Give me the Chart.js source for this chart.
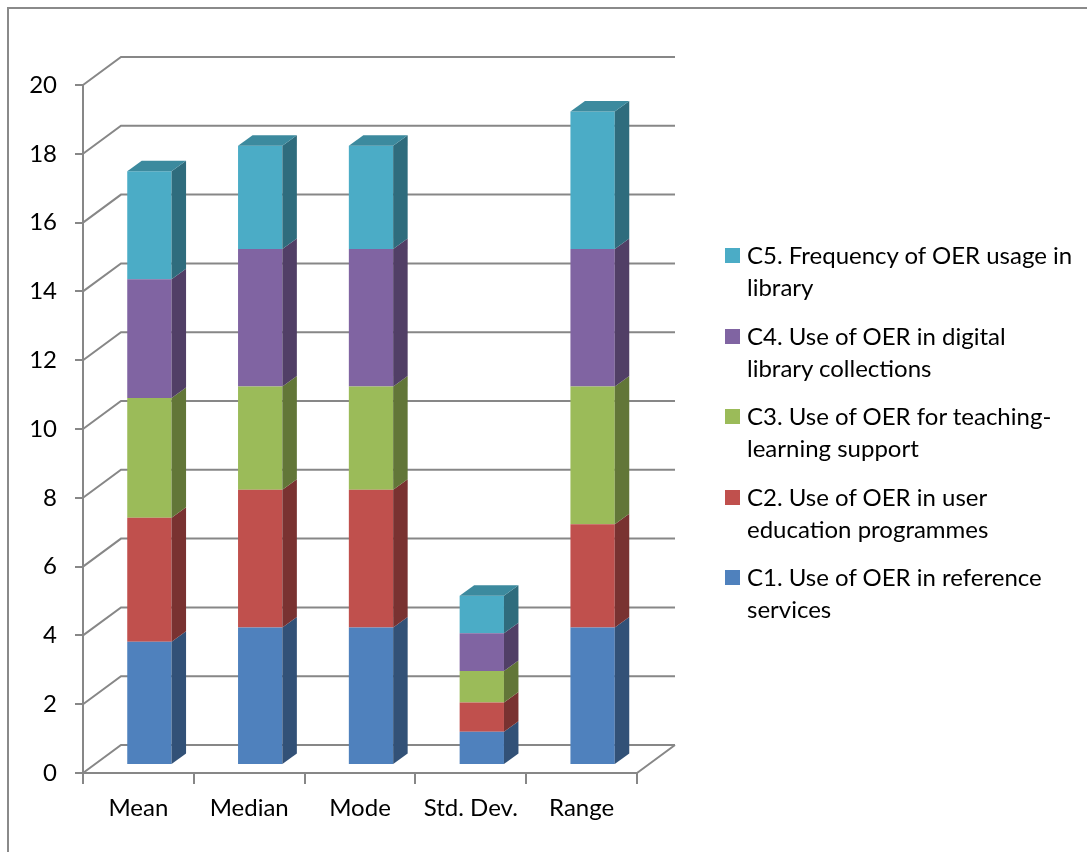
<!DOCTYPE html>
<html lang="en">
<head>
<meta charset="UTF-8">
<title>OER usage – descriptive statistics</title>
<script src="https://cdn.jsdelivr.net/npm/chart.js"></script>
<style>
  html, body { margin: 0; padding: 0; background: #fff; overflow: hidden; }
  #wrap { position: relative; width: 1087px; height: 852px; }
  #frame {
    position: absolute; left: 7px; top: 7px; width: 1200px; height: 1000px;
    border: 2px solid #8a8a8a; box-sizing: border-box;
  }
  #graph { position: absolute; left: 0; top: 0; }
  #legend {
    position: absolute; left: 725px; top: 239px;
    font-family: Lato, "Open Sans", sans-serif; font-size: 24px; color: #000;
  }
  .item { display: flex; align-items: flex-start; margin-bottom: 16.5px; }
  .swatch { width: 15px; height: 15px; margin-top: 9px; margin-right: 7px; flex: none; }
  .label { width: 327px; line-height: 32px; }
</style>
</head>
<body>
<div id="wrap">
  <div id="frame"></div>
  <canvas id="graph" width="1087" height="852"></canvas>
  <div id="legend"></div>
</div>

<script>
  const categories = ["Mean", "Median", "Mode", "Std. Dev.", "Range"];
  const yTicks = [0, 2, 4, 6, 8, 10, 12, 14, 16, 18, 20];

  const seriesNames = [
    "C1. Use of OER in reference services",
    "C2. Use of OER in user education programmes",
    "C3. Use of OER for teaching-learning support",
    "C4. Use of OER in digital library collections",
    "C5. Frequency of OER usage in library"
  ];
  const c1Values = [3.58, 4, 4, 0.97, 4];
  const c2Values = [3.61, 4, 4, 0.85, 3];
  const c3Values = [3.48, 3, 3, 0.91, 4];
  const c4Values = [3.45, 4, 4, 1.10, 4];
  const c5Values = [3.14, 3, 3, 1.09, 4];
  const seriesColors = ["#4F81BD", "#C0504D", "#9BBB59", "#8064A2", "#4BACC6"];

  const axisColor = "#878787";
  const fontFamily = "Lato, 'Open Sans', sans-serif";

  // oblique offsets for the fake 3D look
  const WALL = { x: 38, y: -28 };      // front axis -> back wall
  const BAR_SHIFT = { x: 11, y: -8 };  // bars stand a little behind the front plane
  const BAR_DEPTH = { x: 14.5, y: -10.5 };

  function shade(hex, f) {
    const n = parseInt(hex.slice(1), 16);
    const r = Math.round(((n >> 16) & 255) * f);
    const g = Math.round(((n >> 8) & 255) * f);
    const b = Math.round((n & 255) * f);
    return `rgb(${r},${g},${b})`;
  }

  const depthPlugin = {
    id: "depth3d",
    beforeDatasetsDraw(chart) {
      const { ctx, chartArea: a, scales: { y } } = chart;
      // back wall grid and the floor's right edge
      ctx.save();
      ctx.strokeStyle = axisColor;
      ctx.lineWidth = 2;
      ctx.beginPath();
      y.ticks.forEach(t => {
        const py = y.getPixelForValue(t.value);
        ctx.moveTo(a.left, py);
        ctx.lineTo(a.left + WALL.x, py + WALL.y);
        ctx.lineTo(a.right + WALL.x, py + WALL.y);
      });
      ctx.moveTo(a.right, a.bottom);
      ctx.lineTo(a.right + WALL.x, a.bottom + WALL.y);
      ctx.stroke();
      ctx.restore();
      // bars get drawn pushed back into the box
      ctx.save();
      ctx.translate(BAR_SHIFT.x, BAR_SHIFT.y);
    },
    afterDatasetsDraw(chart) {
      const ctx = chart.ctx;
      const last = chart.data.datasets.length - 1;
      chart.data.datasets.forEach((ds, di) => {
        const meta = chart.getDatasetMeta(di);
        meta.data.forEach(bar => {
          const { x, y, base, width } = bar.getProps(["x", "y", "base", "width"], true);
          const l = x - width / 2, r = x + width / 2;
          // right side face
          ctx.fillStyle = shade(ds.backgroundColor, 0.63);
          ctx.beginPath();
          ctx.moveTo(r, y);
          ctx.lineTo(r + BAR_DEPTH.x, y + BAR_DEPTH.y);
          ctx.lineTo(r + BAR_DEPTH.x, base + BAR_DEPTH.y);
          ctx.lineTo(r, base);
          ctx.closePath();
          ctx.fill();
          // lid on the top segment only
          if (di === last) {
            ctx.fillStyle = shade(ds.backgroundColor, 0.8);
            ctx.beginPath();
            ctx.moveTo(l, y);
            ctx.lineTo(l + BAR_DEPTH.x, y + BAR_DEPTH.y);
            ctx.lineTo(r + BAR_DEPTH.x, y + BAR_DEPTH.y);
            ctx.lineTo(r, y);
            ctx.closePath();
            ctx.fill();
          }
        });
      });
      ctx.restore();
    }
  };

  const seriesValues = [c1Values, c2Values, c3Values, c4Values, c5Values];
  const datasets = seriesNames.map((name, i) => ({
    label: name,
    data: seriesValues[i],
    backgroundColor: seriesColors[i],
    borderWidth: 0,
    barPercentage: 0.4,
    categoryPercentage: 1,
    clip: false
  }));

  new Chart(document.getElementById("graph").getContext("2d"), {
    type: "bar",
    data: { labels: categories, datasets: datasets },
    options: {
      responsive: false,
      animation: false,
      layout: { padding: { top: 85, right: 450, left: 0, bottom: 0 } },
      plugins: { legend: { display: false }, tooltip: { enabled: false } },
      scales: {
        x: {
          stacked: true,
          afterFit: s => { s.height = 79; },
          grid: { drawOnChartArea: false, tickLength: 11, color: axisColor, lineWidth: 2 },
          border: { color: axisColor, width: 2 },
          ticks: { color: "#000", padding: 10, font: { family: fontFamily, size: 24 } }
        },
        y: {
          stacked: true,
          min: 0,
          max: 20,
          afterFit: s => { s.width = 83; },
          afterBuildTicks: s => { s.ticks = yTicks.map(v => ({ value: v })); },
          grid: { drawOnChartArea: false, tickLength: 8, color: axisColor, lineWidth: 2 },
          border: { color: axisColor, width: 2 },
          ticks: { color: "#000", padding: 18, font: { family: fontFamily, size: 24 } }
        }
      }
    },
    plugins: [depthPlugin]
  });

  // legend on the right, top series first
  const legend = document.getElementById("legend");
  for (let i = seriesNames.length - 1; i >= 0; i--) {
    const item = document.createElement("div");
    item.className = "item";
    item.innerHTML = `<span class="swatch" style="background:${seriesColors[i]}"></span>` +
      `<span class="label">${seriesNames[i]}</span>`;
    legend.appendChild(item);
  }
</script>
</body>
</html>
